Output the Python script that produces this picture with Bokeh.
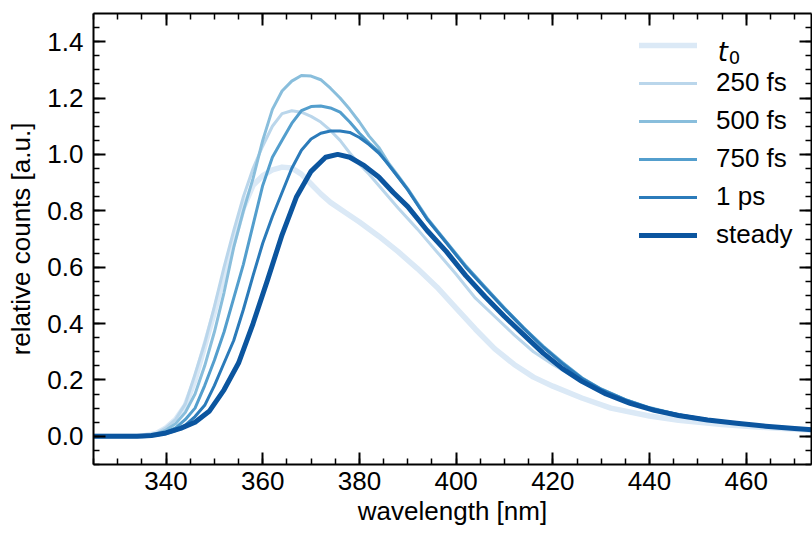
from bokeh.plotting import figure
from bokeh.models import (Range1d, LinearAxis, SingleIntervalTicker, Legend,
                          LegendItem, Label, PrintfTickFormatter, CustomJSTickFormatter)
from bokeh.core.properties import value
from bokeh.embed import file_html
from bokeh.resources import INLINE

# ---------------- data ----------------
wl_t0 = [325, 335, 338, 340, 342, 344, 346, 348, 350, 352, 354, 356, 358, 360, 362, 364, 366,
         368, 370, 372, 374, 377, 380, 384, 388, 392, 396, 400, 404, 408, 412, 416, 420, 426,
         432, 440, 446, 455, 465, 475]
t0 = [0.0, 0.0, 0.01, 0.03, 0.06, 0.11, 0.20, 0.32, 0.44, 0.57, 0.69, 0.81, 0.89, 0.925, 0.945,
      0.955, 0.952, 0.93, 0.895, 0.86, 0.83, 0.795, 0.76, 0.71, 0.655, 0.595, 0.53, 0.455, 0.38,
      0.31, 0.255, 0.21, 0.178, 0.136, 0.10, 0.072, 0.057, 0.042, 0.03, 0.02]

wl_250 = [325, 335, 338, 340, 342, 344, 346, 348, 350, 352, 354, 356, 358, 360, 362, 364, 366,
          368, 370, 372, 374, 376, 378, 380, 382, 384, 388, 392, 396, 400, 404, 408, 412, 416,
          420, 426, 432, 438, 444, 450, 456, 462, 468, 475]
s250 = [0.0, 0.0, 0.01, 0.03, 0.06, 0.115, 0.22, 0.33, 0.46, 0.60, 0.73, 0.85, 0.95, 1.03, 1.10,
        1.145, 1.155, 1.15, 1.135, 1.115, 1.085, 1.05, 1.005, 0.965, 0.93, 0.89, 0.81, 0.735,
        0.655, 0.575, 0.49, 0.425, 0.36, 0.30, 0.255, 0.195, 0.143, 0.108, 0.082, 0.064, 0.051,
        0.04, 0.031, 0.023]

wl_500 = [325, 335, 338, 340, 342, 344, 346, 348, 350, 352, 354, 356, 358, 360, 362, 364, 366,
          368, 370, 372, 374, 376, 378, 380, 382, 384, 386, 388, 390, 394, 398, 402, 406, 410,
          414, 418, 422, 426, 430, 435, 440, 446, 452, 458, 464, 470, 475]
s500 = [0.0, 0.0, 0.008, 0.022, 0.045, 0.085, 0.15, 0.25, 0.37, 0.51, 0.67, 0.80, 0.915, 1.05,
        1.16, 1.225, 1.26, 1.28, 1.278, 1.265, 1.235, 1.20, 1.16, 1.115, 1.065, 1.025, 0.97,
        0.925, 0.878, 0.775, 0.69, 0.605, 0.53, 0.455, 0.385, 0.32, 0.262, 0.208, 0.168, 0.13,
        0.102, 0.077, 0.06, 0.047, 0.036, 0.028, 0.022]

wl_750 = [325, 335, 338, 340, 342, 344, 346, 348, 350, 352, 354, 356, 358, 360, 362, 364, 366,
          368, 370, 372, 374, 376, 378, 380, 382, 384, 386, 388, 390, 394, 398, 402, 406, 410,
          414, 418, 422, 426, 430, 435, 440, 446, 452, 458, 464, 470, 475]
s750 = [0.0, 0.0, 0.005, 0.015, 0.03, 0.06, 0.10, 0.18, 0.27, 0.37, 0.49, 0.61, 0.75, 0.89, 0.99,
        1.05, 1.11, 1.155, 1.17, 1.172, 1.165, 1.15, 1.115, 1.075, 1.04, 1.01, 0.963, 0.92, 0.876,
        0.772, 0.688, 0.603, 0.528, 0.454, 0.384, 0.318, 0.26, 0.207, 0.167, 0.13, 0.101, 0.077,
        0.059, 0.046, 0.036, 0.028, 0.022]

wl_1ps = [325, 335, 338, 340, 342, 344, 346, 348, 350, 352, 354, 356, 358, 360, 362, 364, 366,
          368, 370, 372, 374, 376, 378, 380, 382, 384, 386, 388, 390, 394, 398, 402, 406, 410,
          414, 418, 422, 426, 430, 435, 440, 446, 452, 458, 464, 470, 475]
s1ps = [0.0, 0.0, 0.004, 0.01, 0.02, 0.04, 0.07, 0.11, 0.18, 0.26, 0.34, 0.45, 0.57, 0.685, 0.78,
        0.865, 0.95, 1.015, 1.055, 1.075, 1.083, 1.083, 1.078, 1.06, 1.035, 1.005, 0.965, 0.92,
        0.874, 0.77, 0.686, 0.60, 0.525, 0.452, 0.382, 0.316, 0.258, 0.205, 0.166, 0.129, 0.10,
        0.076, 0.059, 0.046, 0.036, 0.028, 0.022]

wl_steady = [325, 334, 337, 340, 343, 346, 349, 352, 355, 358, 361, 364, 367, 370, 373, 375.5,
             378, 381, 384, 387, 390, 394, 398, 402, 406, 410, 414, 418, 422, 426, 431, 436, 441,
             446, 452, 458, 464, 470, 475]
steady = [0.0, 0.0, 0.003, 0.012, 0.028, 0.05, 0.09, 0.165, 0.26, 0.40, 0.555, 0.715, 0.85, 0.94,
          0.99, 1.0, 0.99, 0.96, 0.92, 0.865, 0.815, 0.73, 0.655, 0.57, 0.495, 0.425, 0.36, 0.295,
          0.24, 0.195, 0.15, 0.117, 0.092, 0.074, 0.058, 0.046, 0.036, 0.028, 0.022]

labels = ["t0", "250 fs", "500 fs", "750 fs", "1 ps", "steady"]
colors = ["#dbe9f6", "#bad6eb", "#89bedc", "#539ecd", "#2b7bba", "#0b559f"]
widths = [5.5, 3, 3, 3, 3, 5]

x_ticks_interval = 20
y_ticks_interval = 0.2

FONT = "Liberation Sans"
FS = "26px"

p = figure(width=812, height=533, x_range=Range1d(325, 473.5), y_range=Range1d(-0.1, 1.5),
           output_backend="svg", toolbar_location=None,
           min_border_left=93, min_border_right=1, min_border_top=13, min_border_bottom=69)
p.outline_line_color = None
p.xgrid.visible = False
p.ygrid.visible = False
p.background_fill_color = "white"
p.border_fill_color = "white"

series = [(wl_t0, t0), (wl_250, s250), (wl_500, s500), (wl_750, s750), (wl_1ps, s1ps),
          (wl_steady, steady)]
renderers = []
for (xs, ys), c, w in zip(series, colors, widths):
    r = p.line(xs, ys, line_color=c, line_width=w, line_join="round", line_cap="round")
    renderers.append(r)


def style_axis(ax, show_labels=True):
    ax.major_tick_in = 12
    ax.major_tick_out = 0
    ax.minor_tick_in = 6
    ax.minor_tick_out = 0
    ax.major_tick_line_width = 2
    ax.minor_tick_line_width = 1.5
    ax.major_tick_line_color = "black"
    ax.minor_tick_line_color = "black"
    ax.axis_line_width = 2
    ax.axis_line_color = "black"
    ax.major_label_text_font = FONT
    ax.axis_label_text_font = FONT
    ax.axis_label_text_font_size = FS
    ax.axis_label_text_font_style = "normal"
    ax.axis_label_text_color = "black"
    if show_labels:
        ax.major_label_text_font_size = FS
        ax.major_label_text_color = "black"
    else:
        ax.formatter = CustomJSTickFormatter(code="return '';")
        ax.major_label_text_color = None
        ax.major_label_text_font_size = "10px"
        ax.major_label_standoff = 0


xax = p.xaxis[0]
xax.ticker = SingleIntervalTicker(interval=x_ticks_interval, num_minor_ticks=4)
style_axis(xax)
xax.axis_label = "wavelength [nm]"
xax.major_label_standoff = 7
xax.axis_label_standoff = 3

yax = p.yaxis[0]
yax.ticker = SingleIntervalTicker(interval=y_ticks_interval, num_minor_ticks=4)
yax.formatter = PrintfTickFormatter(format="%.1f")
style_axis(yax)
yax.axis_label = "relative counts [a.u.]"
yax.major_label_standoff = 10
yax.axis_label_standoff = 8

top = LinearAxis(ticker=SingleIntervalTicker(interval=x_ticks_interval, num_minor_ticks=4))
style_axis(top, show_labels=False)
p.add_layout(top, "above")
right = LinearAxis(ticker=SingleIntervalTicker(interval=y_ticks_interval, num_minor_ticks=4))
style_axis(right, show_labels=False)
p.add_layout(right, "right")

items = []
for lab, r in zip(labels, renderers):
    items.append(LegendItem(label=value(" " if lab == "t0" else lab), renderers=[r]))
legend = Legend(items=items, location=(546, 214), glyph_width=58, glyph_height=30,
                label_height=30, label_standoff=19, spacing=7, padding=0, margin=0,
                border_line_color=None, background_fill_alpha=0,
                label_text_font=FONT, label_text_font_size=FS, label_text_color="black")
p.add_layout(legend)

# italic t with subscript 0 for the first legend entry
p.add_layout(Label(x=454.1, y=1.362, text="t", text_font="DejaVu Sans",
                   text_font_style="italic", text_font_size="26px", text_color="black",
                   text_baseline="alphabetic"))
p.add_layout(Label(x=456.4, y=1.345, text="0", text_font="DejaVu Sans",
                   text_font_size="18px", text_color="black", text_baseline="alphabetic"))

open("out.html", "w").write(file_html(p, INLINE))
